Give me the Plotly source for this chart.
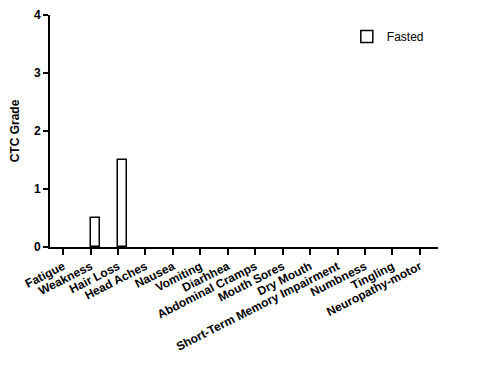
import plotly.graph_objects as go

categories = ["Fatigue", "Weakness", "Hair Loss", "Head Aches", "Nausea", "Vomiting",
              "Diarhhea", "Abdominal Cramps", "Mouth Sores", "Dry Mouth",
              "Short-Term Memory Impairment", "Numbness", "Tingling", "Neuropathy-motor"]
fasted = [0, 0.5, 1.5, 0, 0, 0, 0, 0, 0, 0, 0, 0, 0, 0]
y_ticks = [0, 1, 2, 3, 4]

fig = go.Figure()
fig.add_trace(go.Bar(
    x=list(range(len(categories))),
    y=[v if v > 0 else None for v in fasted],
    name="Fasted",
    width=0.33, offset=0,
    marker=dict(color="white", line=dict(color="black", width=1.5)),
    showlegend=True,
))

fig.update_layout(
    width=480, height=369,
    margin=dict(l=42, r=50, t=7, b=130),
    plot_bgcolor="white", paper_bgcolor="white",
    font=dict(family="Liberation Sans, Arial", color="black"),
    showlegend=True,
    legend=dict(x=0.765, y=0.97, xanchor="left", yanchor="top",
                font=dict(size=12, color="black"), bgcolor="rgba(0,0,0,0)"),
    bargap=0,
)
fig.update_xaxes(
    range=[-0.48, 13.66], automargin=False,
    tickmode="array", tickvals=list(range(len(categories))),
    ticktext=["<b>%s</b>" % c for c in categories],
    tickangle=-27, tickfont=dict(size=12),
    showline=True, linecolor="black", linewidth=2,
    ticks="outside", ticklen=6, tickwidth=2, tickcolor="black",
    showgrid=False, zeroline=False,
)
fig.update_yaxes(
    range=[0, 4], automargin=False,
    tickmode="array", tickvals=y_ticks,
    ticktext=["<b>%d</b>" % v for v in y_ticks],
    tickfont=dict(size=12),
    title=dict(text="<b>CTC Grade</b>", font=dict(size=12), standoff=14),
    showline=True, linecolor="black", linewidth=2,
    ticks="outside", ticklen=5, tickwidth=2, tickcolor="black",
    showgrid=False, zeroline=False,
)

fig.write_html("out.html")
